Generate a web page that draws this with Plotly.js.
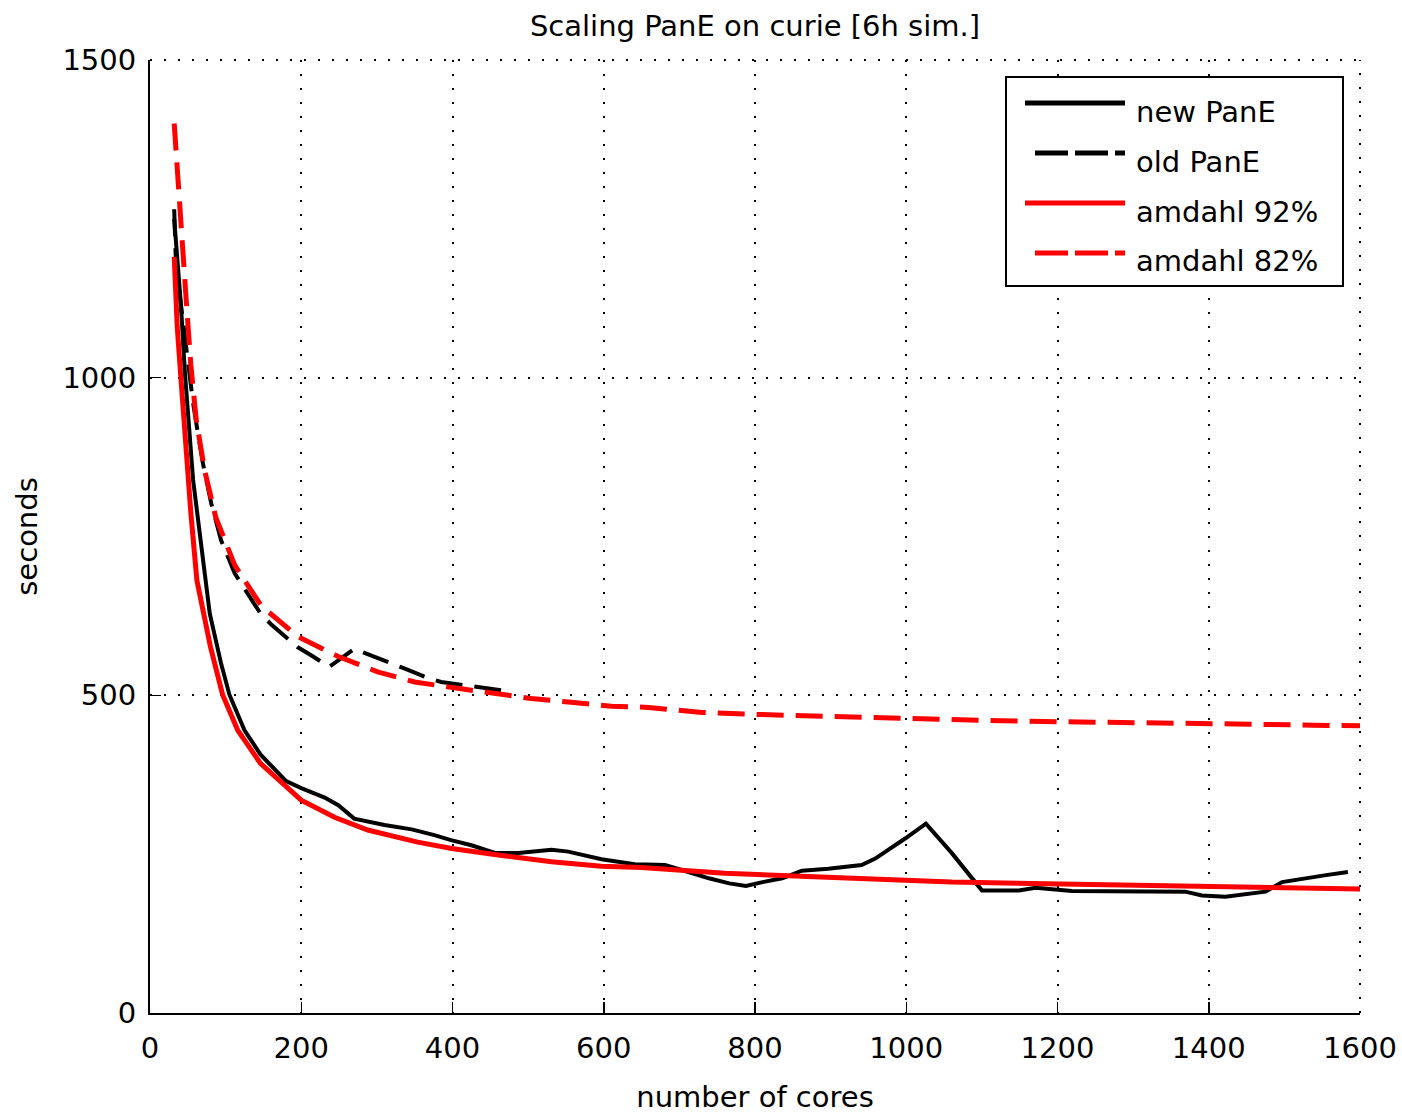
<!DOCTYPE html>
<html>
<head>
<meta charset="utf-8">
<script src="https://cdn.plot.ly/plotly-3.0.1.min.js"></script>
<style>html,body{margin:0;padding:0;background:#fff;}</style>
</head>
<body>
<div id="chart" style="width:1402px;height:1115px;"></div>
<script>
// ---- data ----
const chartTitle = "Scaling PanE on curie [6h sim.]";
const xTitle = "number of cores";
const yTitle = "seconds";
const seriesNames = ["new PanE", "old PanE", "amdahl 92%", "amdahl 82%"];
const xTicks = [0, 200, 400, 600, 800, 1000, 1200, 1400, 1600];
const yTicks = [0, 500, 1000, 1500];

const newCores = [32, 41, 46, 50, 57, 68, 79, 94, 105, 125, 146, 158, 180, 200, 231, 249, 270, 310, 346, 376, 398, 425, 456, 487, 531, 553, 597, 641, 681, 712, 739, 766, 788, 810, 836, 862, 897, 941, 959, 999, 1026, 1060, 1100, 1149, 1171, 1219, 1369, 1391, 1422, 1475, 1497, 1555, 1584];
const newSecs  = [1250, 1112, 1010, 945, 839, 734, 629, 550, 501, 445, 407, 392, 365, 354, 339, 327, 306, 296, 289, 280, 272, 264, 252, 252, 257, 254, 242, 234, 233, 222, 212, 204, 200, 206, 212, 224, 227, 233, 243, 275, 298, 252, 193, 193, 197, 192, 191, 185, 183, 191, 206, 217, 222];

const oldCores = [32, 34, 39, 48, 57, 63, 70, 81, 94, 112, 134, 146, 160, 182, 195, 213, 237, 270, 315, 337, 368, 385, 416, 438, 470];
const oldSecs  = [1265, 1190, 1133, 1045, 960, 915, 865, 802, 744, 692, 650, 629, 612, 590, 576, 563, 545, 573, 553, 542, 527, 521, 516, 512, 507];

const a92Cores = [32, 36, 41, 47, 54, 62, 80, 96, 116, 146, 182, 200, 244, 288, 354, 399, 465, 531, 597, 650, 760, 872, 928, 999, 1060, 1193, 1325, 1458, 1600];
const a92Secs  = [1190, 1080, 997, 892, 787, 681, 576, 501, 445, 393, 356, 335, 308, 288, 269, 259, 248, 238, 231, 229, 220, 214, 212, 209, 206, 203, 201, 198, 195];

const a82Cores = [32, 37, 41, 48, 54, 61, 72, 87, 112, 147, 196, 249, 301, 350, 407, 456, 504, 557, 610, 659, 730, 800, 932, 1023, 1127, 1228, 1332, 1436, 1537, 1600];
const a82Secs  = [1400, 1305, 1240, 1120, 1020, 935, 855, 780, 705, 641, 592, 561, 537, 521, 511, 503, 495, 489, 483, 481, 473, 470, 466, 462, 460, 458, 457, 455, 453, 452];

// ---- styles ----
const FONT = "DejaVu Sans, Liberation Sans, sans-serif";
const FS = 29;
const styles = [
  {color: "#000000", width: 4, dash: "solid"},
  {color: "#000000", width: 4, dash: "27px,12px"},
  {color: "#ff0000", width: 5, dash: "solid"},
  {color: "#ff0000", width: 5, dash: "27px,12px"}
];
const xs = [newCores, oldCores, a92Cores, a82Cores];
const ys = [newSecs, oldSecs, a92Secs, a82Secs];

const traces = xs.map((x, i) => ({
  type: "scatter", mode: "lines", name: seriesNames[i],
  x: x, y: ys[i],
  line: {color: styles[i].color, width: styles[i].width, dash: styles[i].dash},
  showlegend: false
}));

// plot area in pixels (for the MATLAB-style legend box)
const M = {l: 150, r: 42, t: 60, b: 102};
const W = 1402, H = 1115;
const pw = W - M.l - M.r, ph = H - M.t - M.b;
const px = X => (X - M.l) / pw;
const py = Y => (H - M.b - Y) / ph;

const GRID_DASH = "2px,12px";
const shapes = [
  // dotted grid lines at the top and right edges of the axes box
  {type: "line", xref: "paper", yref: "paper", x0: 0, x1: 1, y0: 1, y1: 1,
   line: {color: "#000", width: 2, dash: GRID_DASH}, layer: "below"},
  {type: "line", xref: "paper", yref: "paper", x0: 1, x1: 1, y0: 0, y1: 1,
   line: {color: "#000", width: 2, dash: GRID_DASH}, layer: "below"},
  {type: "rect", xref: "paper", yref: "paper", x0: px(1006), x1: px(1343), y0: py(286), y1: py(77),
   line: {color: "#000", width: 2}, fillcolor: "#fff", layer: "above"}
];
const annotations = [];
const rowLineY = [103, 153, 203, 253];
const rowTextY = [112, 162, 212, 261];
const legendDash = ["solid", "33px,7px", "solid", "33px,7px"];
const legendX0 = [1025, 1035, 1025, 1035];
seriesNames.forEach((name, i) => {
  shapes.push({type: "line", xref: "paper", yref: "paper",
    x0: px(legendX0[i]), x1: px(1125), y0: py(rowLineY[i]), y1: py(rowLineY[i]),
    line: {color: styles[i].color, width: 5, dash: legendDash[i]}, layer: "above"});
  annotations.push({xref: "paper", yref: "paper", x: px(1134), y: py(rowTextY[i]),
    xanchor: "left", yanchor: "middle", text: name, showarrow: false,
    font: {family: FONT, size: FS, color: "#000"}});
});

const axisCommon = {
  showline: true, linecolor: "#000", linewidth: 2, mirror: false,
  ticks: "inside", ticklen: 11, tickwidth: 1.5, tickcolor: "#000",
  showgrid: true, gridcolor: "#000", gridwidth: 2, griddash: GRID_DASH,
  zeroline: false, tickfont: {family: FONT, size: FS, color: "#000"},
  fixedrange: true
};

const layout = {
  width: W, height: H,
  margin: M,
  paper_bgcolor: "#fff", plot_bgcolor: "#fff",
  font: {family: FONT, size: FS, color: "#000"},
  title: {text: chartTitle, font: {family: FONT, size: FS, color: "#000"},
          x: 0.5, xref: "paper", y: 1 - 26 / H, yref: "container", yanchor: "middle"},
  xaxis: Object.assign({}, axisCommon, {
    range: [0, 1600], tickvals: xTicks, ticktext: xTicks.map(String),
    ticklabelstandoff: 8,
    title: {text: xTitle, font: {family: FONT, size: FS, color: "#000"}, standoff: 23}
  }),
  yaxis: Object.assign({}, axisCommon, {
    range: [0, 1500], tickvals: yTicks, ticktext: yTicks.map(String),
    ticklabelstandoff: 6,
    title: {text: yTitle, font: {family: FONT, size: FS, color: "#000"}, standoff: 16}
  }),
  shapes: shapes,
  annotations: annotations,
  showlegend: false
};

Plotly.newPlot("chart", traces, layout, {displayModeBar: false, staticPlot: true});
</script>
</body>
</html>
